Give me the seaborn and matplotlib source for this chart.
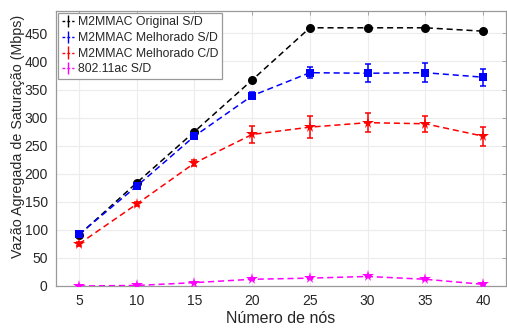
import matplotlib
matplotlib.use("Agg")
import matplotlib.pyplot as plt
import seaborn as sns
import pandas as pd

nodes = [5, 10, 15, 20, 25, 30, 35, 40]
labels = ["M2MMAC Original S/D", "M2MMAC Melhorado S/D", "M2MMAC Melhorado C/D", "802.11ac S/D"]
orig = [91, 184, 275, 367, 460, 460, 460, 454]
orig_err = [1, 2, 2, 2, 1, 1, 1, 1]
melh = [92, 178, 267, 339, 380, 379, 380, 372]
melh_err = [2, 3, 4, 6, 10, 16, 17, 15]
melh_cd = [75, 146, 219, 270, 283, 291, 289, 267]
melh_cd_err = [3, 3, 5, 15, 20, 17, 14, 17]
wifi = [0, 1, 6, 12, 14, 17, 12, 3]
wifi_err = [1, 1, 1, 1, 1, 1, 1, 1]

series = [orig, melh, melh_cd, wifi]
errs = [orig_err, melh_err, melh_cd_err, wifi_err]
colors = ["black", "blue", "red", "magenta"]
markers = ["o", "s", "*", "*"]
msizes = [6.5, 6, 8.5, 8.5]

sns.set_theme(style="whitegrid")
plt.rcParams["font.family"] = ["Liberation Sans", "DejaVu Sans"]

fig = plt.figure(figsize=(5.07, 3.29), dpi=100)
ax = fig.add_axes([0.1105, 0.1307, 0.8875, 0.836])

handles = []
for lab, vals, e, c, m, ms in zip(labels, series, errs, colors, markers, msizes):
    df = pd.DataFrame({"Nós": nodes, "Vazão": vals})
    sns.lineplot(data=df, x="Nós", y="Vazão", color=c, marker=m,
                 markersize=ms, markeredgewidth=0, linewidth=1.1,
                 ax=ax, zorder=3)
    ax.lines[-1].set_dashes((4, 2.5))
    ax.errorbar(nodes, vals, yerr=e, fmt="none", ecolor=c, elinewidth=1.1,
                capsize=2.2, capthick=1.1, zorder=2)
    hp = ax.errorbar([], [], yerr=[], fmt="--", color=c, linewidth=1.0,
                     elinewidth=1.0, capsize=2, dashes=(2, 1.5), label=lab)
    handles.append(hp)

ax.set_xlim(3, 42)
ax.set_ylim(0, 490)
ax.set_xticks(nodes)
ax.set_yticks(range(0, 451, 50))
ax.grid(True, color="#ececec", linewidth=0.8)
for s in ax.spines.values():
    s.set_color("#999999")
    s.set_linewidth(0.9)
ax.tick_params(axis="both", labelsize=10, colors="#262626", direction="in",
               length=3, width=0.6, pad=6, top=True, right=True)
ax.tick_params(axis="both", which="both", color="#999999")
ax.set_xlabel("Número de nós", fontsize=11.5, color="#262626", labelpad=2)
ax.set_ylabel("Vazão Agregada de Saturação (Mbps)", fontsize=10.3, color="#262626")
ax.yaxis.set_label_coords(-0.068, 0.545)

leg = ax.legend(handles=handles, labels=labels, loc="upper left", fontsize=8.8,
                frameon=True, fancybox=False, framealpha=1, edgecolor="#999999",
                borderaxespad=0.15, borderpad=0.3, handlelength=1.0,
                handletextpad=0.35, labelspacing=0.3)
leg.get_frame().set_linewidth(0.9)

fig.savefig("out.png", dpi=100)
